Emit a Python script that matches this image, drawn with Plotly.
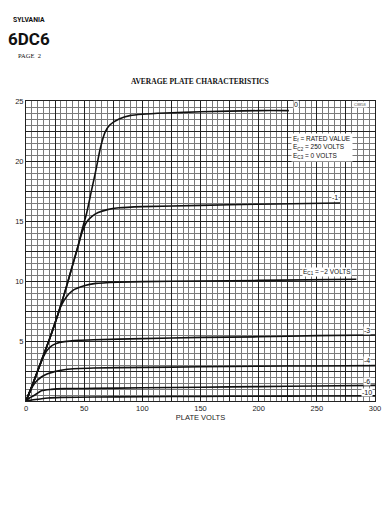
import plotly.graph_objects as go

# ---- data (plate volts, plate mA) ----
v_ec0 = [0, 5, 10, 15, 20, 25, 30, 35, 40, 45, 48, 52, 56, 60, 64, 68, 72, 80, 90, 100, 120, 150, 200, 226]
i_ec0 = [0, 1.2, 2.5, 3.8, 5.1, 6.5, 8.0, 9.6, 11.3, 13.0, 14.2, 15.6, 17.4, 19.2, 21.1, 22.4, 23.0, 23.5, 23.8, 23.9, 24.0, 24.1, 24.2, 24.2]

v_ec1 = [0, 5, 10, 15, 20, 25, 30, 35, 40, 45, 48, 52, 57, 62, 70, 80, 100, 150, 200, 270]
i_ec1 = [0, 1.2, 2.5, 3.8, 5.1, 6.5, 8.0, 9.6, 11.3, 13.0, 14.0, 14.9, 15.4, 15.7, 15.95, 16.1, 16.2, 16.3, 16.4, 16.5]

v_ec2 = [0, 5, 10, 15, 20, 26, 30, 35, 40, 50, 60, 80, 100, 150, 200, 284]
i_ec2 = [0, 1.2, 2.5, 3.8, 5.1, 6.8, 7.9, 8.7, 9.2, 9.6, 9.8, 9.9, 9.95, 10.0, 10.05, 10.15]

v_ec3 = [0, 5, 10, 15, 18, 22, 26, 33, 45, 58, 100, 150, 200, 250, 300]
i_ec3 = [0, 1.2, 2.5, 3.7, 4.2, 4.6, 4.8, 4.95, 5.05, 5.1, 5.2, 5.3, 5.35, 5.45, 5.5]

v_ec4 = [0, 3.4, 7.6, 13.2, 18, 24.5, 35.5, 58, 100, 150, 200, 250, 300]
i_ec4 = [0, 0.8, 1.5, 2.0, 2.25, 2.45, 2.65, 2.75, 2.8, 2.85, 2.9, 2.92, 2.95]

v_ec6 = [0, 3, 7.6, 13.2, 21.7, 33, 58, 100, 150, 200, 250, 300]
i_ec6 = [0, 0.25, 0.5, 0.86, 0.97, 1.03, 1.05, 1.1, 1.15, 1.2, 1.25, 1.3]

v_ec10 = [0, 5, 10, 19, 30, 58, 100, 150, 200, 250, 300]
i_ec10 = [0, 0.08, 0.14, 0.25, 0.3, 0.33, 0.36, 0.38, 0.4, 0.42, 0.43]

x_tickvals = [0, 25, 50, 75, 100, 125, 150, 175, 200, 225, 250, 275, 300]
x_ticktext = ["0", "", "50", "", "100", "", "150", "", "200", "", "250", "", "300"]
y_tickvals = [0, 2.5, 5, 7.5, 10, 12.5, 15, 17.5, 20, 22.5, 25]
y_ticktext = ["", "", "5", "", "10", "", "15", "", "20", "", "25"]

series = [
    (v_ec0, i_ec0), (v_ec1, i_ec1), (v_ec2, i_ec2), (v_ec3, i_ec3),
    (v_ec4, i_ec4), (v_ec6, i_ec6), (v_ec10, i_ec10),
]

fig = go.Figure()
for vx, iy in series:
    fig.add_trace(go.Scatter(x=vx, y=iy, mode="lines",
                             line=dict(color="#111111", width=1.6, shape="spline", smoothing=0.6),
                             showlegend=False, hoverinfo="skip"))

SANS = "Liberation Sans, Arial, sans-serif"
NARROW = "Roboto, Liberation Sans, sans-serif"
SERIF = "Liberation Serif, Times New Roman, serif"

# plot area in pixels
L, R, T, B = 26, 381, 101, 401
W, H = 392, 512


def px(x):
    return (x - L) / (R - L)


def py(y):
    return (B - y) / (B - T)


fig.update_layout(
    width=W, height=H,
    margin=dict(l=L, r=W - R, t=T, b=H - B),
    paper_bgcolor="white", plot_bgcolor="white",
    showlegend=False,
    xaxis=dict(range=[0, 300], tickmode="array", tickvals=x_tickvals, ticktext=x_ticktext,
               showgrid=True, gridcolor="#222222", gridwidth=1.1,
               minor=dict(tick0=0, dtick=5, showgrid=True, gridcolor="#7a7a7a", gridwidth=0.7),
               showline=True, linecolor="#222222", linewidth=1, mirror=True,
               zeroline=False, ticks="", ticklen=0,
               tickfont=dict(family=SANS, size=7.5, color="#222222"),
               title=dict(text="PLATE VOLTS", font=dict(family=SANS, size=7.5, color="#222222"), standoff=0)),
    yaxis=dict(range=[0, 25], tickmode="array", tickvals=y_tickvals, ticktext=y_ticktext,
               showgrid=True, gridcolor="#222222", gridwidth=1.1,
               minor=dict(tick0=0, dtick=0.5, showgrid=True, gridcolor="#7a7a7a", gridwidth=0.7),
               showline=True, linecolor="#222222", linewidth=1, mirror=True,
               zeroline=False, ticks="", ticklen=0,
               tickfont=dict(family=SANS, size=7.5, color="#222222")),
)

lab = dict(family=SANS, size=7, color="#111111")
curve_labels = [
    ("0", 232, 24.7),
    ("-1", 266, 17.0),
    ("-3", 293, 5.9),
    ("-4", 293, 3.4),
    ("-6", 293, 1.65),
    ("-10", 293, 0.75),
]
for t, xv, yv in curve_labels:
    fig.add_annotation(x=xv, y=yv, text=t, showarrow=False, font=lab,
                       bgcolor="white", borderpad=0, xanchor="center", yanchor="middle")

fig.add_annotation(x=259, y=10.75, text="E<sub>C1</sub> = \u22122 VOLTS", showarrow=False,
                   xanchor="center", yanchor="middle",
                   font=dict(family=SANS, size=6.5, color="#111111"), bgcolor="white", borderpad=0)

fig.add_annotation(x=px(296), y=py(133), xref="paper", yref="paper", xanchor="left", yanchor="top",
                   align="left",
                   text="E<sub>f</sub> = RATED VALUE<br>E<sub>C2</sub> = 250 VOLTS<br>E<sub>C3</sub> = 0 VOLTS",
                   showarrow=False, font=dict(family=SANS, size=6.5, color="#111111"),
                   bgcolor="white", borderpad=1)

fig.add_annotation(x=px(366), y=py(104), xref="paper", yref="paper", text="C8858", showarrow=False,
                   xanchor="center", yanchor="middle",
                   font=dict(family=SANS, size=4, color="#555555"), bgcolor="white", borderpad=0)

# header texts
fig.add_annotation(x=px(29), y=py(20), xref="paper", yref="paper", text="<b>SYLVANIA</b>",
                   xanchor="center", yanchor="middle",
                   showarrow=False, font=dict(family=NARROW, size=6.8, color="#111111"))
fig.add_annotation(x=px(29), y=py(39), xref="paper", yref="paper", text="<b>6DC6</b>",
                   xanchor="center", yanchor="middle",
                   showarrow=False, font=dict(family=NARROW, size=17, color="#111111"))
fig.add_annotation(x=px(30), y=py(55), xref="paper", yref="paper", text="PAGE  2",
                   xanchor="center", yanchor="middle",
                   showarrow=False, font=dict(family=SERIF, size=6.5, color="#111111"))
fig.add_annotation(x=px(203), y=py(81), xref="paper", yref="paper",
                   text="<b>AVERAGE PLATE CHARACTERISTICS</b>",
                   xanchor="center", yanchor="middle",
                   showarrow=False, font=dict(family=SERIF, size=7.5, color="#111111"))

fig.write_html("out.html", config={"displayModeBar": False},
               post_script="document.body.style.margin='0';document.body.style.padding='0';")
